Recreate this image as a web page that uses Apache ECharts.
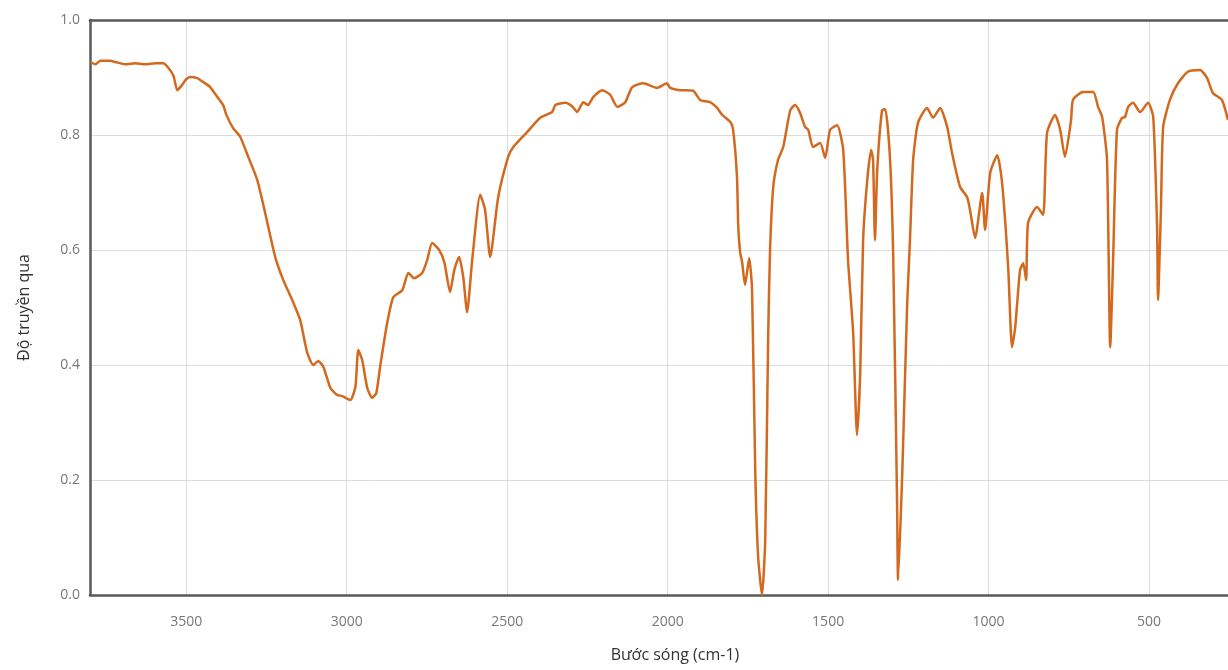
<!DOCTYPE html>
<html>
<head>
<meta charset="utf-8">
<script src="https://cdn.jsdelivr.net/npm/echarts@6/dist/echarts.min.js"></script>
<style>
  html, body { margin: 0; padding: 0; background: #fff; }
  #main { width: 1228px; height: 670px; }
</style>
</head>
<body>
<div id="main"></div>
<script>
// phổ IR: số sóng (cm-1) và độ truyền qua
var wavenumber = [3799, 3783, 3768, 3737, 3721, 3690, 3659, 3628, 3597, 3572,
  3556, 3540, 3528, 3516, 3500, 3488, 3466, 3447, 3425, 3403,
  3385, 3375, 3354, 3332, 3307, 3279, 3254, 3223, 3198, 3170,
  3145, 3123, 3104, 3089, 3073, 3051, 3030, 3014, 2989, 2973,
  2964, 2952, 2936, 2921, 2908, 2896, 2874, 2855, 2827, 2808,
  2790, 2765, 2749, 2734, 2712, 2696, 2678, 2665, 2650, 2637,
  2625, 2609, 2584, 2569, 2553, 2528, 2497, 2481, 2438, 2397,
  2360, 2350, 2319, 2298, 2282, 2263, 2248, 2232, 2204, 2179,
  2157, 2132, 2111, 2076, 2033, 2002, 1992, 1961, 1921, 1899,
  1868, 1846, 1830, 1805, 1796, 1784, 1780, 1774, 1768, 1759,
  1746, 1737, 1727, 1718, 1706, 1696, 1687, 1681, 1671, 1656,
  1640, 1618, 1603, 1587, 1572, 1562, 1547, 1525, 1509, 1494,
  1472, 1453, 1438, 1422, 1410, 1400, 1391, 1378, 1366, 1360,
  1354, 1347, 1332, 1322, 1307, 1297, 1285, 1282, 1269, 1254,
  1245, 1235, 1220, 1192, 1173, 1151, 1129, 1114, 1089, 1067,
  1058, 1042, 1020, 1011, 995, 973, 958, 939, 927, 917,
  902, 892, 883, 877, 849, 830, 818, 793, 777, 762,
  743, 737, 706, 674, 659, 646, 631, 621, 612, 600,
  584, 575, 565, 550, 528, 503, 487, 475, 472, 463,
  456, 435, 410, 379, 341, 319, 301, 273, 254];

var transmittance = [0.927, 0.923, 0.929, 0.929, 0.927, 0.923, 0.925, 0.923, 0.925, 0.925,
  0.917, 0.903, 0.878, 0.885, 0.897, 0.901, 0.899, 0.892, 0.883, 0.866,
  0.852, 0.835, 0.812, 0.797, 0.762, 0.722, 0.664, 0.588, 0.548, 0.513,
  0.478, 0.421, 0.400, 0.407, 0.397, 0.360, 0.348, 0.346, 0.339, 0.362,
  0.426, 0.409, 0.360, 0.343, 0.351, 0.397, 0.473, 0.518, 0.530, 0.560,
  0.551, 0.560, 0.583, 0.612, 0.600, 0.579, 0.527, 0.565, 0.588, 0.553,
  0.492, 0.583, 0.696, 0.670, 0.588, 0.692, 0.762, 0.779, 0.805, 0.830,
  0.840, 0.852, 0.856, 0.850, 0.840, 0.857, 0.852, 0.866, 0.878, 0.870,
  0.849, 0.857, 0.883, 0.890, 0.882, 0.890, 0.882, 0.878, 0.877, 0.861,
  0.857, 0.847, 0.835, 0.823, 0.809, 0.727, 0.640, 0.595, 0.579, 0.539,
  0.586, 0.530, 0.212, 0.066, 0.000, 0.096, 0.443, 0.600, 0.710, 0.757,
  0.779, 0.843, 0.852, 0.838, 0.814, 0.809, 0.779, 0.786, 0.760, 0.809,
  0.817, 0.774, 0.583, 0.456, 0.278, 0.386, 0.617, 0.722, 0.774, 0.757,
  0.617, 0.739, 0.843, 0.845, 0.757, 0.583, 0.153, 0.026, 0.212, 0.501,
  0.617, 0.757, 0.821, 0.847, 0.830, 0.847, 0.814, 0.769, 0.710, 0.692,
  0.670, 0.621, 0.699, 0.635, 0.734, 0.765, 0.717, 0.570, 0.431, 0.466,
  0.565, 0.577, 0.548, 0.647, 0.675, 0.661, 0.803, 0.835, 0.809, 0.762,
  0.826, 0.861, 0.875, 0.875, 0.849, 0.831, 0.757, 0.431, 0.583, 0.809,
  0.830, 0.831, 0.849, 0.856, 0.840, 0.856, 0.831, 0.640, 0.513, 0.670,
  0.814, 0.861, 0.890, 0.910, 0.913, 0.899, 0.873, 0.861, 0.826];

var xTicks = [500, 1000, 1500, 2000, 2500, 3000, 3500];

var xName = 'Bước sóng (cm-1)';
var yName = 'Độ truyền qua';

var myChart = echarts.init(document.getElementById('main'));

var seriesData = [];
for (var i = 0; i < wavenumber.length; i++) {
  seriesData.push([wavenumber[i], transmittance[i]]);
}

var frameLine = { show: true, onZero: false, lineStyle: { color: '#5a5a5a', width: 2.5 } };

var option = {
  animation: false,
  textStyle: { fontFamily: 'Open Sans' },
  grid: {
    left: 90,
    right: 0,
    top: 20,
    bottom: 75
  },
  xAxis: [{
    type: 'value',
    inverse: true,
    min: 254,
    max: 3800,
    name: xName,
    nameLocation: 'middle',
    nameGap: 52,
    nameTextStyle: { fontSize: 16, color: '#333', padding: [0, 0, 0, 32] },
    axisLine: frameLine,
    axisTick: { show: false, customValues: xTicks },
    axisLabel: {
      color: '#777', fontSize: 14, margin: 20, customValues: xTicks,
      formatter: function (v) { return String(v); }
    },
    splitLine: { lineStyle: { color: '#dcdcdc', width: 1 } }
  }, {
    type: 'value',
    position: 'top',
    inverse: true,
    min: 254,
    max: 3800,
    axisLine: frameLine,
    axisTick: { show: false },
    axisLabel: { show: false },
    splitLine: { show: false }
  }],
  yAxis: {
    type: 'value',
    min: 0,
    max: 1,
    interval: 0.2,
    name: yName,
    nameLocation: 'middle',
    nameGap: 58,
    nameTextStyle: { fontSize: 16, color: '#333' },
    axisLine: frameLine,
    axisTick: { show: false },
    axisLabel: {
      color: '#777',
      fontSize: 14,
      margin: 10,
      formatter: function (v) { return v.toFixed(1); }
    },
    splitLine: { lineStyle: { color: '#dcdcdc', width: 1 } }
  },
  series: [{
    type: 'line',
    data: seriesData,
    showSymbol: false,
    symbol: 'none',
    smooth: 0.2,
    lineStyle: { color: '#d2691e', width: 2.5 }
  }]
};

myChart.setOption(option);
</script>
</body>
</html>
